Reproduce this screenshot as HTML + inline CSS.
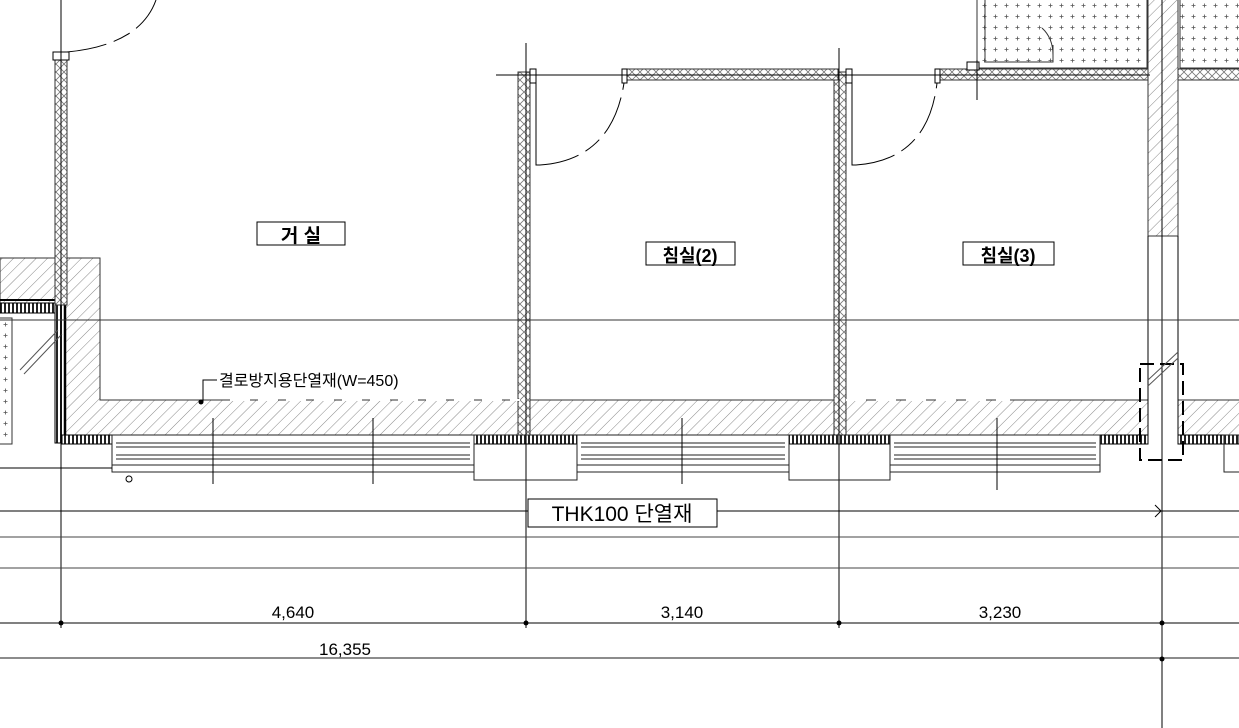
<!DOCTYPE html>
<html><head><meta charset="utf-8"><style>
html,body{margin:0;padding:0;background:#fff;}
svg{display:block;font-family:"Liberation Sans","Noto Sans CJK KR",sans-serif;}
</style></head><body>
<svg width="1239" height="728" viewBox="0 0 1239 728" xmlns="http://www.w3.org/2000/svg">
<defs>
<pattern id="h" width="8" height="8" patternUnits="userSpaceOnUse" patternTransform="rotate(45)">
<rect width="8" height="8" fill="#fff"/><line x1="0" y1="0" x2="0" y2="8" stroke="#888" stroke-width="1"/></pattern>
<pattern id="x" width="8" height="8" patternUnits="userSpaceOnUse">
<rect width="8" height="8" fill="#fff"/><path d="M0 0L8 8M8 0L0 8" stroke="#777" stroke-width="0.8"/></pattern>
<pattern id="d" width="11" height="11" patternUnits="userSpaceOnUse">
<rect width="11" height="11" fill="#fff"/><path d="M5.5 3.5V7.5M3.5 5.5H7.5" stroke="#555" stroke-width="0.8"/></pattern>
<pattern id="ins" width="4" height="6" patternUnits="userSpaceOnUse">
<rect width="4" height="6" fill="#fff"/><rect x="0" y="0" width="2" height="6" fill="#222"/></pattern>
</defs>
<g fill="none" stroke="#000" stroke-width="1">
<rect x="977" y="-2" width="170" height="70" fill="url(#d)" stroke="#333"/>
<rect x="1180" y="-2" width="62" height="70" fill="url(#d)" stroke="#333"/>
<path d="M985 0V62H1053V45" stroke="#333"/>
<path d="M1042 28Q1053 38 1053 55" stroke="#333"/>
<rect x="-2" y="318" width="14" height="126" fill="url(#d)" stroke="#333"/>
<path d="M0 258H100V400H1148V435H62V305H0Z" fill="url(#h)" stroke="#333"/>
<rect x="1178" y="400" width="62" height="35" fill="url(#h)" stroke="#333"/>
<rect x="1148" y="-2" width="30" height="238" fill="url(#h)" stroke="#333"/>
<line x1="1148" y1="236" x2="1148" y2="440"/>
<line x1="1178" y1="236" x2="1178" y2="440"/>
<line x1="1162" y1="0" x2="1162" y2="728"/>
<rect x="0" y="303" width="62" height="10" fill="url(#ins)"/>
<rect x="55" y="305" width="10" height="138" fill="url(#ins)"/>
<line x1="0" y1="300" x2="62" y2="300" stroke-width="2"/>
<line x1="65" y1="305" x2="65" y2="437" stroke-width="2.5"/>
<path d="M20 370L58 330M24 374L62 334" stroke="#555"/>
<rect x="62" y="435" width="50" height="9" fill="url(#ins)"/>
<rect x="474" y="435" width="103" height="9" fill="url(#ins)"/>
<rect x="789" y="435" width="101" height="9" fill="url(#ins)"/>
<rect x="1100" y="435" width="48" height="9" fill="url(#ins)"/>
<rect x="1178" y="435" width="61" height="9" fill="url(#ins)"/>
<rect x="55" y="52" width="12" height="253" fill="url(#x)" stroke="#333"/>
<rect x="518" y="72" width="12" height="363" fill="url(#x)" stroke="#333"/>
<rect x="834" y="72" width="12" height="363" fill="url(#x)" stroke="#333"/>
<rect x="624" y="69" width="214" height="11" fill="url(#x)" stroke="#333"/>
<rect x="937" y="69" width="211" height="11" fill="url(#x)" stroke="#333"/>
<rect x="1178" y="69" width="62" height="11" fill="url(#x)" stroke="#333"/>
<rect x="530" y="69" width="6" height="14" fill="#fff"/>
<rect x="622" y="69" width="5" height="14" fill="#fff"/>
<rect x="846" y="69" width="6" height="14" fill="#fff"/>
<rect x="935" y="69" width="5" height="14" fill="#fff"/>
<rect x="967" y="62" width="12" height="8" fill="#fff"/>
<rect x="53" y="52" width="16" height="8" fill="#fff"/>
<path d="M536 83V165H540"/>
<path d="M540 165Q612 160 624 83" stroke-dasharray="40 8 18 8"/>
<path d="M852 83V165H856"/>
<path d="M856 165Q928 160 937 83" stroke-dasharray="40 8 18 8"/>
<path d="M67 52Q140 45 156 0" stroke-dasharray="40 8 18 8"/>
<line x1="496" y1="75" x2="1150" y2="75"/>
<line x1="526" y1="43" x2="526" y2="628"/>
<line x1="839" y1="48" x2="839" y2="628"/>
<line x1="61" y1="0" x2="61" y2="628"/>
<line x1="977" y1="60" x2="977" y2="100"/>
<line x1="0" y1="320" x2="1239" y2="320" stroke="#333"/>
<g stroke="#222">
<rect x="112" y="435" width="362" height="37"/>
<line x1="116" y1="443" x2="470" y2="443"/><line x1="116" y1="447" x2="470" y2="447"/>
<line x1="116" y1="455" x2="470" y2="455"/><line x1="116" y1="459" x2="470" y2="459"/>
<line x1="112" y1="465" x2="474" y2="465"/>
<rect x="474" y="435" width="103" height="45"/>
<rect x="577" y="435" width="212" height="37"/>
<line x1="581" y1="443" x2="785" y2="443"/><line x1="581" y1="447" x2="785" y2="447"/>
<line x1="581" y1="455" x2="785" y2="455"/><line x1="581" y1="459" x2="785" y2="459"/>
<line x1="577" y1="465" x2="789" y2="465"/>
<rect x="789" y="435" width="101" height="45"/>
<rect x="890" y="435" width="210" height="37"/>
<line x1="894" y1="443" x2="1096" y2="443"/><line x1="894" y1="447" x2="1096" y2="447"/>
<line x1="894" y1="455" x2="1096" y2="455"/><line x1="894" y1="459" x2="1096" y2="459"/>
<line x1="890" y1="465" x2="1100" y2="465"/>
<rect x="1224" y="435" width="16" height="37"/>
</g>
<circle cx="129" cy="479" r="3"/>
<line x1="213" y1="418" x2="213" y2="484"/><line x1="373" y1="418" x2="373" y2="484"/>
<line x1="682" y1="418" x2="682" y2="484"/><line x1="997" y1="418" x2="997" y2="490"/>
<line x1="0" y1="468" x2="112" y2="468"/>
<rect x="1140" y="364" width="43" height="96" stroke-width="2" stroke-dasharray="14 6"/>
<path d="M1148 380L1178 352M1148 386L1178 358" stroke="#555"/>
<line x1="0" y1="511" x2="528" y2="511"/><line x1="717" y1="511" x2="1239" y2="511"/>
<line x1="0" y1="537" x2="1239" y2="537" stroke="#444"/>
<line x1="0" y1="568" x2="1239" y2="568" stroke="#444"/>
<line x1="0" y1="623" x2="1239" y2="623"/>
<line x1="0" y1="658" x2="1239" y2="658" stroke="#666" stroke-width="1.5"/>
<path d="M1155 505L1161 511L1155 517"/>
<path d="M217 380H203V402"/>
<line x1="230" y1="400" x2="520" y2="400" stroke="#fff" stroke-width="2" stroke-dasharray="20 8"/>
<line x1="846" y1="400" x2="1010" y2="400" stroke="#fff" stroke-width="2" stroke-dasharray="20 10"/>
<rect x="257" y="222" width="88" height="23" fill="#fff"/>
<rect x="646" y="242" width="89" height="23" fill="#fff"/>
<rect x="963" y="242" width="91" height="23" fill="#fff"/>
<rect x="528" y="499" width="189" height="28" fill="#fff"/>
</g>
<g fill="#000">
<circle cx="201" cy="402" r="2.5"/>
<circle cx="61" cy="623" r="2.5"/><circle cx="526" cy="623" r="2.5"/><circle cx="839" cy="623" r="2.5"/><circle cx="1162" cy="623" r="2.5"/><circle cx="1162" cy="659" r="2.5"/>
<text x="301" y="242" font-size="19" font-weight="bold" text-anchor="middle">거 실</text>
<text x="690" y="262" font-size="18" font-weight="bold" text-anchor="middle">침실(2)</text>
<text x="1008" y="262" font-size="18" font-weight="bold" text-anchor="middle">침실(3)</text>
<text x="219" y="386" font-size="16">결로방지용단열재(W=450)</text>
<text x="622" y="521" font-size="21" text-anchor="middle">THK100 단열재</text>
<text x="293" y="618" font-size="17" text-anchor="middle">4,640</text>
<text x="682" y="618" font-size="17" text-anchor="middle">3,140</text>
<text x="1000" y="618" font-size="17" text-anchor="middle">3,230</text>
<text x="345" y="655" font-size="17" text-anchor="middle">16,355</text>
</g>
</svg>
</body></html>
